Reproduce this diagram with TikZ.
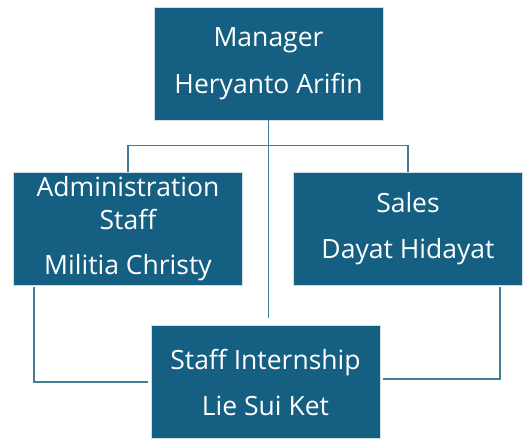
\documentclass[tikz,border=0pt]{standalone}
\usepackage{fontspec}
\setmainfont{Open Sans}
\definecolor{unitblue}{HTML}{156082}
\definecolor{linkblue}{HTML}{3F7D9B}
\tikzset{
  unit/.style={draw=white!80!unitblue, line width=0.6pt, fill=unitblue, text=white,
    minimum width=229pt, minimum height=113pt, align=center, inner sep=0pt,
    font=\fontsize{26.5}{33}\selectfont},
  link/.style={draw=linkblue, line width=1.5pt}
}
\begin{document}
\begin{tikzpicture}[x=1pt,y=-1pt]
\useasboundingbox (0,0) rectangle (523,443);
\node[unit] (mgr) at (268.5,63.5) {Manager\\[14pt]Heryanto Arifin};
\node[unit] (adm) at (128,228.5) {Administration\\Staff\\[12pt]Militia Christy};
\node[unit] (sls) at (408,228.5) {Sales\\[13pt]Dayat Hidayat};
\node[unit] (int) at (265.5,382) {Staff Internship\\[13pt]Lie Sui Ket};
\coordinate (stem) at ([yshift=7pt]int.north -| mgr.south);
\draw[link] (mgr.south) -- (stem);
\draw[link] (adm.north) -- ++(0,-26) -| (sls.north);
\draw[link, shorten >=3pt] ([xshift=21pt,yshift=-2pt]adm.south west) |- (int.west);
\draw[link, shorten >=3pt] ([xshift=-23pt,yshift=-2pt]sls.south east) |- ([yshift=3pt]int.east);
\end{tikzpicture}
\end{document}
